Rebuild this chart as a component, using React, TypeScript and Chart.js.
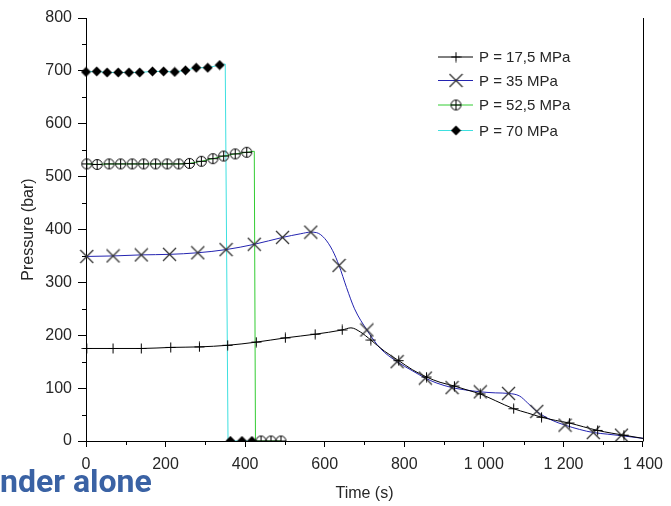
import React, { useEffect, useRef } from 'react';
import { Chart, registerables } from 'chart.js';

Chart.register(...registerables);

// ---------- data (time in s, pressure in bar) ----------
const seriesLabels = ['P = 17,5 MPa', 'P = 35 MPa', 'P = 52,5 MPa', 'P = 70 MPa'];

// P = 17,5 MPa — continuous curve
const p175LineT = [0, 68, 139, 213, 285, 356, 428, 501, 576, 644, 666, 690, 716, 750, 786, 820, 856, 890, 926, 960, 991, 1030, 1075, 1110, 1145, 1180, 1215, 1250, 1286, 1320, 1352, 1400];
const p175LineP = [175, 175, 175, 177, 178, 181, 187, 195, 202, 210, 214, 206, 191, 170, 152, 135, 121, 111, 104, 96, 89, 76, 61, 53, 45, 39, 34, 27, 20, 15, 11, 5];
// P = 17,5 MPa — marker points
const p175MarkT = [2, 68, 139, 213, 285, 356, 428, 501, 576, 644, 716, 786, 856, 926, 991, 1075, 1145, 1215, 1286, 1352];
const p175MarkP = [175, 175, 175, 177, 178, 181, 187, 195, 202, 210, 191, 152, 121, 104, 89, 61, 45, 34, 20, 11];

// P = 35 MPa
const p35LineT = [0, 68, 139, 210, 281, 352, 423, 494, 540, 565, 580, 600, 620, 636, 655, 675, 706, 740, 782, 820, 853, 880, 920, 950, 991, 1030, 1062, 1090, 1110, 1133, 1169, 1204, 1240, 1275, 1310, 1346, 1400];
const p35LineP = [349, 350, 352, 353, 356, 362, 372, 385, 392, 395, 394, 383, 360, 332, 290, 250, 210, 175, 150, 133, 119, 110, 101, 97, 93, 91, 90, 85, 72, 56, 40, 30, 22, 16, 13, 10, 5];
const p35MarkT = [2, 68, 139, 210, 281, 352, 423, 494, 565, 636, 706, 782, 853, 920, 991, 1062, 1133, 1204, 1275, 1346];
const p35MarkP = [349, 350, 352, 353, 356, 362, 372, 385, 395, 332, 210, 150, 119, 101, 93, 90, 56, 30, 16, 11];

// P = 52,5 MPa
const p525LineT = [0, 28, 58, 87, 116, 145, 175, 204, 233, 260, 290, 319, 346, 375, 404, 423, 426, 440, 465, 490];
const p525LineP = [524, 523, 524, 524, 524, 524, 524, 524, 524, 525, 529, 534, 539, 543, 546, 548, 0, 0, 0, 0];
const p525MarkT = [2, 28, 58, 87, 116, 145, 175, 204, 233, 260, 290, 319, 346, 375, 404, 440, 465, 490];
const p525MarkP = [524, 523, 524, 524, 524, 524, 524, 524, 524, 525, 529, 534, 539, 543, 546, 0, 0, 0];

// P = 70 MPa
const p70LineT = [0, 27, 53, 81, 108, 135, 167, 195, 223, 250, 277, 306, 336, 350, 357, 363, 392, 417];
const p70LineP = [698, 699, 697, 697, 697, 697, 699, 699, 698, 701, 706, 706, 711, 713, 0, 0, 0, 0];
const p70MarkT = [0, 27, 53, 81, 108, 135, 167, 195, 223, 250, 277, 306, 336, 363, 392, 417];
const p70MarkP = [698, 699, 697, 697, 697, 697, 699, 699, 698, 701, 706, 706, 711, 0, 0, 0];

// axes
const xTickValues = [0, 200, 400, 600, 800, 1000, 1200, 1400];
const xTickLabels = ['0', '200', '400', '600', '800', '1 000', '1 200', '1 400'];
const xMinorValues = [100, 300, 500, 700, 900, 1100, 1300];
const yTickValues = [0, 100, 200, 300, 400, 500, 600, 700, 800];
const yTickLabels = ['0', '100', '200', '300', '400', '500', '600', '700', '800'];
const yMinorValues = [50, 150, 250, 350, 450, 550, 650, 750];

const lineColors = ['#000000', '#2424b0', '#33cc33', '#3ee0e0'];
const markerKinds = ['plus', 'x', 'oplus', 'diamond'];

const FONT = '"Liberation Sans", Arial, sans-serif';
const TEXT = '#262626';

function pts(t: number[], p: number[]) {
  return t.map((v, i) => ({ x: v, y: p[i] }));
}

function makeMarker(kind: string): HTMLCanvasElement {
  const c = document.createElement('canvas');
  const s = kind === 'x' ? 15 : kind === 'diamond' ? 11 : kind === 'oplus' ? 13 : 11;
  c.width = s;
  c.height = s;
  const g = c.getContext('2d')!;
  const m = s / 2;
  g.strokeStyle = '#000';
  g.fillStyle = '#000';
  g.lineWidth = 1;
  g.beginPath();
  if (kind === 'plus') {
    g.moveTo(m, 0.5); g.lineTo(m, s - 0.5);
    g.moveTo(0.5, m); g.lineTo(s - 0.5, m);
    g.stroke();
  } else if (kind === 'x') {
    g.strokeStyle = '#333';
    g.lineWidth = 1.3;
    g.moveTo(1, 1); g.lineTo(s - 1, s - 1);
    g.moveTo(s - 1, 1); g.lineTo(1, s - 1);
    g.stroke();
  } else if (kind === 'oplus') {
    g.arc(m, m, 5, 0, Math.PI * 2);
    g.moveTo(m, m - 5); g.lineTo(m, m + 5);
    g.moveTo(m - 5, m); g.lineTo(m + 5, m);
    g.stroke();
  } else {
    g.moveTo(m, 0.5); g.lineTo(s - 0.5, m); g.lineTo(m, s - 0.5); g.lineTo(0.5, m);
    g.closePath();
    g.fill();
  }
  return c;
}

export default function App() {
  const ref = useRef<HTMLCanvasElement | null>(null);

  useEffect(() => {
    const canvas = ref.current;
    if (!canvas) return;
    const markers = markerKinds.map(makeMarker);

    const lines = [
      pts(p175LineT, p175LineP),
      pts(p35LineT, p35LineP),
      pts(p525LineT, p525LineP),
      pts(p70LineT, p70LineP),
    ];
    const marks = [
      pts(p175MarkT, p175MarkP),
      pts(p35MarkT, p35MarkP),
      pts(p525MarkT, p525MarkP),
      pts(p70MarkT, p70MarkP),
    ];
    const clip = { left: 10, right: 10, top: 10, bottom: 0 };

    const markerSets = marks.map((d, i) => ({
      label: seriesLabels[i] + ' markers',
      data: d,
      showLine: false,
      pointStyle: markers[i],
      pointRadius: 6,
      pointHoverRadius: 6,
      clip,
    }));
    const lineSets = lines.map((d, i) => ({
      label: seriesLabels[i],
      data: d,
      showLine: true,
      borderColor: lineColors[i],
      borderWidth: 1,
      pointRadius: 0,
      pointHoverRadius: 0,
      cubicInterpolationMode: i < 2 ? 'monotone' : 'default',
      tension: 0,
      clip,
    }));

    const framePlugin = {
      id: 'frame',
      afterDraw(chart: any) {
        const { ctx, chartArea } = chart;
        const xs = chart.scales.x;
        const ys = chart.scales.y;
        ctx.save();
        ctx.strokeStyle = '#000';
        ctx.lineWidth = 1;
        ctx.beginPath();
        const r = Math.round(chartArea.right) + 0.5;
        ctx.moveTo(r, chartArea.top);
        ctx.lineTo(r, chartArea.bottom + 0.5);
        xMinorValues.forEach((v) => {
          const px = Math.round(xs.getPixelForValue(v)) + 0.5;
          ctx.moveTo(px, chartArea.bottom);
          ctx.lineTo(px, chartArea.bottom + 4);
        });
        yMinorValues.forEach((v) => {
          const py = Math.round(ys.getPixelForValue(v)) + 0.5;
          ctx.moveTo(chartArea.left - 4, py);
          ctx.lineTo(chartArea.left, py);
        });
        ctx.stroke();

        // legend inside the plot
        const rowY = [57, 80.5, 105, 130.5];
        ctx.font = '15px ' + FONT;
        ctx.textBaseline = 'middle';
        ctx.textAlign = 'left';
        seriesLabels.forEach((label, i) => {
          const y = rowY[i];
          ctx.strokeStyle = lineColors[i];
          ctx.lineWidth = 1;
          ctx.beginPath();
          ctx.moveTo(438, y);
          ctx.lineTo(473, y);
          ctx.stroke();
          const mk = markers[i];
          ctx.drawImage(mk, 456 - mk.width / 2, y - mk.height / 2);
          ctx.fillStyle = TEXT;
          ctx.fillText(label, 479, y + 1);
        });
        ctx.restore();
      },
    };

    const chart = new Chart(canvas, {
      type: 'scatter',
      data: { datasets: [...markerSets, ...lineSets] as any },
      options: {
        animation: false,
        responsive: false,
        events: [],
        layout: { padding: { left: 0, right: 25, top: 18, bottom: 0 } },
        plugins: { legend: { display: false }, tooltip: { enabled: false } },
        scales: {
          x: {
            type: 'linear',
            min: 0,
            max: 1400,
            afterBuildTicks: (s: any) => {
              s.ticks = xTickValues.map((v) => ({ value: v }));
            },
            afterFit: (s: any) => {
              s.height = 65;
            },
            ticks: {
              autoSkip: false,
              maxRotation: 0,
              padding: 8,
              color: TEXT,
              font: { family: FONT, size: 16 },
              callback: (v: any) => xTickLabels[xTickValues.indexOf(Number(v))],
            },
            grid: { drawOnChartArea: false, drawTicks: true, tickLength: 6, color: '#000' },
            border: { display: true, color: '#000', width: 1 },
            title: {
              display: true,
              text: 'Time (s)',
              color: TEXT,
              font: { family: FONT, size: 16 },
              padding: { top: 0, bottom: 3 },
            },
          },
          y: {
            type: 'linear',
            min: 0,
            max: 800,
            afterBuildTicks: (s: any) => {
              s.ticks = yTickValues.map((v) => ({ value: v }));
            },
            afterFit: (s: any) => {
              s.width = 86;
            },
            ticks: {
              autoSkip: false,
              padding: 6,
              color: TEXT,
              font: { family: FONT, size: 16 },
              callback: (v: any) => yTickLabels[yTickValues.indexOf(Number(v))],
            },
            grid: { drawOnChartArea: false, drawTicks: true, tickLength: 8, color: '#000' },
            border: { display: true, color: '#000', width: 1 },
            title: {
              display: true,
              text: 'Pressure (bar)',
              color: TEXT,
              font: { family: FONT, size: 16 },
              padding: { top: 19, bottom: 0 },
            },
          },
        },
      } as any,
      plugins: [framePlugin],
    });

    return () => chart.destroy();
  }, []);

  return (
    <div
      style={{
        position: 'fixed',
        left: 0,
        top: 0,
        width: 671,
        height: 506,
        background: '#fff',
        overflow: 'hidden',
      }}
    >
      <canvas ref={ref} width={671} height={506} style={{ width: 671, height: 506, display: 'block' }} />
      <div
        style={{
          position: 'absolute',
          left: 0,
          top: 465,
          fontFamily: 'Roboto, "Open Sans", sans-serif',
          fontWeight: 700,
          fontSize: 32,
          lineHeight: 1,
          color: '#3a62a4',
          whiteSpace: 'nowrap',
        }}
      >
        nder alone
      </div>
    </div>
  );
}
